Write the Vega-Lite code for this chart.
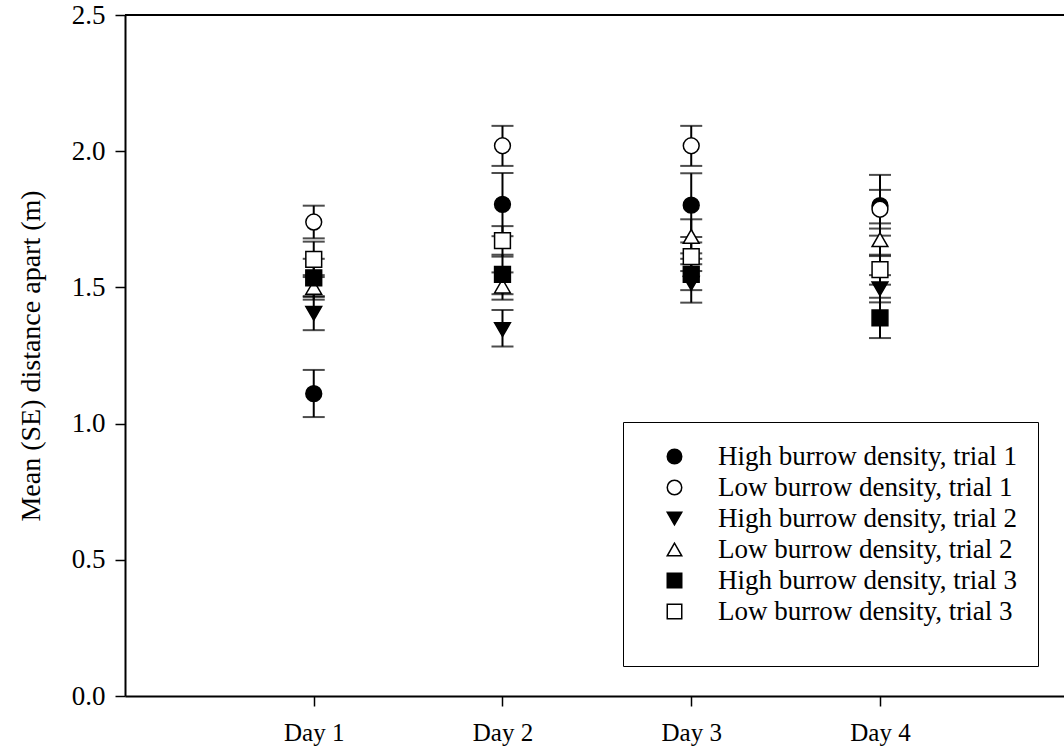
{
  "$schema": "https://vega.github.io/schema/vega-lite/v6.json",
  "width": 939,
  "height": 681,
  "autosize": "none",
  "padding": {"left": 125, "top": 15, "right": 0, "bottom": 58},
  "background": "white",
  "config": {
    "view": {"stroke": null},
    "font": "Liberation Serif",
    "axis": {"grid": false, "domainColor": "black", "domainWidth": 2, "tickColor": "black", "tickWidth": 1.5, "labelColor": "black", "titleColor": "black", "labelFont": "Liberation Serif", "titleFont": "Liberation Serif", "titleFontWeight": "normal"},
    "legend": {"titleOrient": "bottom", "titleFontSize": 16, "titlePadding": 4, "orient": "none", "legendX": 498, "legendY": 407, "padding": 21, "strokeColor": "black", "fillColor": "white", "symbolOffset": 17, "labelOffset": 30, "labelFontSize": 27, "labelFont": "Liberation Serif", "labelColor": "black", "labelLimit": 600, "symbolSize": 210, "rowPadding": 3, "symbolStrokeColor": "black", "symbolStrokeWidth": 1.5}
  },
  "data": {"values": [
    {"day": 1, "series": "High burrow density, trial 1", "mean": 1.11, "lo": 1.024, "hi": 1.197},
    {"day": 1, "series": "Low burrow density, trial 1", "mean": 1.74, "lo": 1.68, "hi": 1.80},
    {"day": 1, "series": "High burrow density, trial 2", "mean": 1.405, "lo": 1.343, "hi": 1.468},
    {"day": 1, "series": "Low burrow density, trial 2", "mean": 1.50, "lo": 1.455, "hi": 1.545},
    {"day": 1, "series": "High burrow density, trial 3", "mean": 1.535, "lo": 1.465, "hi": 1.605},
    {"day": 1, "series": "Low burrow density, trial 3", "mean": 1.603, "lo": 1.538, "hi": 1.668},
    {"day": 2, "series": "High burrow density, trial 1", "mean": 1.805, "lo": 1.688, "hi": 1.92},
    {"day": 2, "series": "Low burrow density, trial 1", "mean": 2.02, "lo": 1.946, "hi": 2.093},
    {"day": 2, "series": "High burrow density, trial 2", "mean": 1.345, "lo": 1.283, "hi": 1.417},
    {"day": 2, "series": "Low burrow density, trial 2", "mean": 1.505, "lo": 1.455, "hi": 1.555},
    {"day": 2, "series": "High burrow density, trial 3", "mean": 1.548, "lo": 1.475, "hi": 1.62},
    {"day": 2, "series": "Low burrow density, trial 3", "mean": 1.672, "lo": 1.613, "hi": 1.725},
    {"day": 3, "series": "High burrow density, trial 1", "mean": 1.802, "lo": 1.685, "hi": 1.919},
    {"day": 3, "series": "Low burrow density, trial 1", "mean": 2.02, "lo": 1.946, "hi": 2.093},
    {"day": 3, "series": "High burrow density, trial 2", "mean": 1.515, "lo": 1.444, "hi": 1.585},
    {"day": 3, "series": "Low burrow density, trial 2", "mean": 1.687, "lo": 1.625, "hi": 1.75},
    {"day": 3, "series": "High burrow density, trial 3", "mean": 1.548, "lo": 1.49, "hi": 1.605},
    {"day": 3, "series": "Low burrow density, trial 3", "mean": 1.613, "lo": 1.56, "hi": 1.665},
    {"day": 4, "series": "High burrow density, trial 1", "mean": 1.80, "lo": 1.69, "hi": 1.913},
    {"day": 4, "series": "Low burrow density, trial 1", "mean": 1.787, "lo": 1.716, "hi": 1.858},
    {"day": 4, "series": "High burrow density, trial 2", "mean": 1.495, "lo": 1.445, "hi": 1.545},
    {"day": 4, "series": "Low burrow density, trial 2", "mean": 1.675, "lo": 1.615, "hi": 1.735},
    {"day": 4, "series": "High burrow density, trial 3", "mean": 1.388, "lo": 1.314, "hi": 1.462},
    {"day": 4, "series": "Low burrow density, trial 3", "mean": 1.565, "lo": 1.51, "hi": 1.62}
  ]},
  "layer": [
    {
      "mark": {"type": "rule", "color": "black", "strokeWidth": 2},
      "encoding": {"y": {"datum": 2.5, "type": "quantitative", "title": "Mean (SE) distance apart (m)", "scale": {"domain": [0, 2.5]}}}
    },
    {
      "mark": {"type": "errorbar", "ticks": {"size": 22, "thickness": 2, "color": "black"}, "rule": {"strokeWidth": 2, "color": "black"}},
      "encoding": {
        "x": {"field": "day", "type": "quantitative", "title": null},
        "y": {"field": "lo", "type": "quantitative", "title": "Mean (SE) distance apart (m)"},
        "y2": {"field": "hi"}
      }
    },
    {
      "mark": {"type": "point", "filled": true, "strokeWidth": 1.5, "size": 250, "opacity": 1},
      "encoding": {
        "x": {"field": "day", "type": "quantitative", "scale": {"domain": [0, 4.975], "nice": false, "zero": false},
          "axis": {"values": [1, 2, 3, 4], "labelExpr": "'Day ' + datum.value", "title": null, "tickSize": 10, "labelPadding": 14, "labelFontSize": 25}},
        "y": {"field": "mean", "type": "quantitative", "scale": {"domain": [0, 2.5], "nice": false},
          "axis": {"values": [0, 0.5, 1, 1.5, 2, 2.5], "format": ".1f", "title": "Mean (SE) distance apart (m)", "titleFontSize": 28, "titlePadding": 26, "tickSize": 10, "labelPadding": 10, "labelFontSize": 27}},
        "shape": {"field": "series", "type": "nominal",
          "scale": {"domain": ["High burrow density, trial 1", "Low burrow density, trial 1", "High burrow density, trial 2", "Low burrow density, trial 2", "High burrow density, trial 3", "Low burrow density, trial 3"],
                    "range": ["circle", "circle", "triangle-down", "triangle-up", "square", "square"]},
          "legend": {"title": "\u00a0"}},
        "fill": {"field": "series", "type": "nominal",
          "scale": {"domain": ["High burrow density, trial 1", "Low burrow density, trial 1", "High burrow density, trial 2", "Low burrow density, trial 2", "High burrow density, trial 3", "Low burrow density, trial 3"],
                    "range": ["black", "white", "black", "white", "black", "white"]},
          "legend": {"title": "\u00a0"}},
        "stroke": {"field": "series", "type": "nominal",
          "scale": {"domain": ["High burrow density, trial 1", "Low burrow density, trial 1", "High burrow density, trial 2", "Low burrow density, trial 2", "High burrow density, trial 3", "Low burrow density, trial 3"],
                    "range": ["black", "black", "black", "black", "black", "black"]},
          "legend": {"title": "\u00a0"}}
      }
    }
  ]
}
